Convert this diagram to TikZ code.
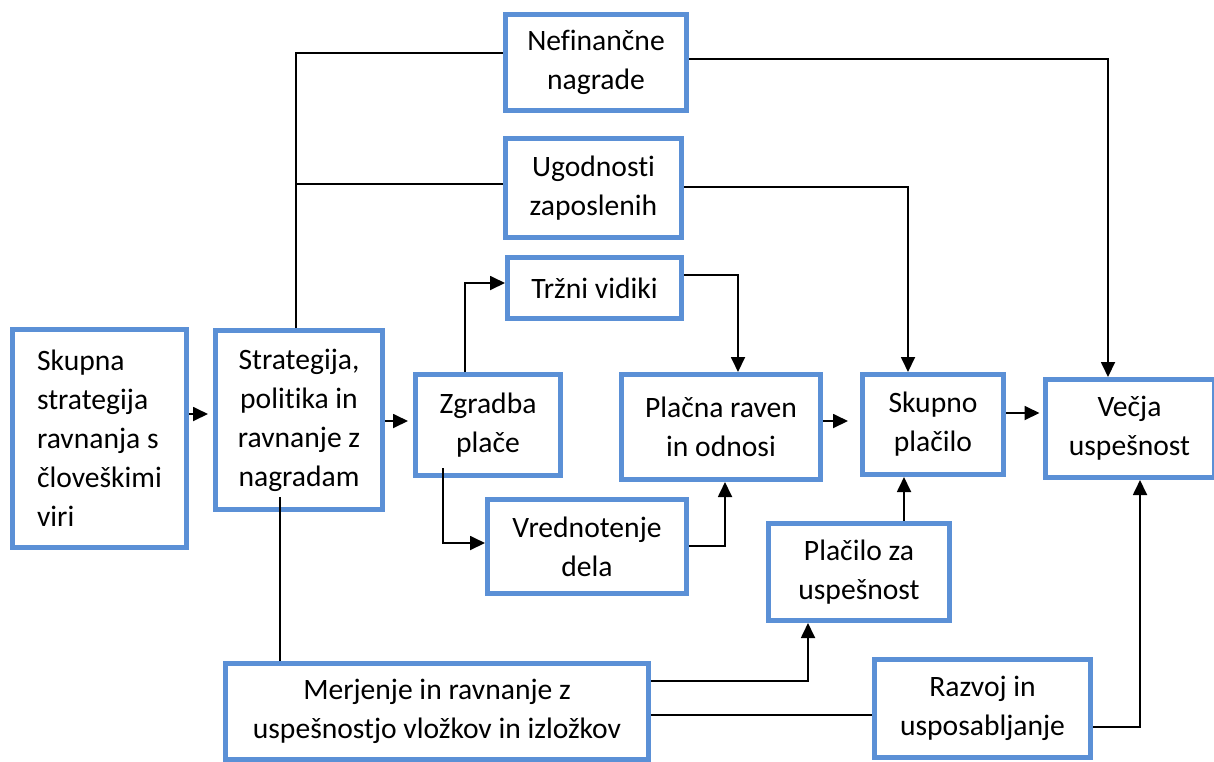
\documentclass[tikz,border=0pt]{standalone}
\usepackage{fontspec}
\setmainfont{Carlito}[Ligatures=NoCommon]
\usetikzlibrary{arrows.meta}
\definecolor{boxblue}{RGB}{91,144,214}
\begin{document}
\begin{tikzpicture}[x=1pt,y=-1pt,
  bx/.style={draw=boxblue,line width=5pt,fill=white,inner sep=0pt,align=center,
    font=\fontsize{29.6}{39}\selectfont},
  ln/.style={draw=black,line width=1.8pt},
  arr/.style={ln,-{Triangle[length=15pt,width=14pt]}}]
\useasboundingbox (0,0) rectangle (1214,761);
% boxes
\node[bx,minimum width=174pt,minimum height=218pt,align=left] (skup) at (99.5,438.5) {Skupna\\strategija\\ravnanja s\\človeškimi\\viri};
\node[bx,minimum width=167pt,minimum height=179pt] (strat) at (299,420) {Strategija,\\politika in\\ravnanje z\\nagradam};
\node[bx,minimum width=145pt,minimum height=101pt] (zgr) at (488,425) {Zgradba\\plače};
\node[bx,minimum width=174pt,minimum height=61pt] (trz) at (594.5,288) {Tržni vidiki};
\node[bx,minimum width=199pt,minimum height=105pt] (plr) at (721,427) {Plačna raven\\in odnosi};
\node[bx,minimum width=199pt,minimum height=94pt] (vred) at (587,546.5) {Vrednotenje\\dela};
\node[bx,minimum width=181pt,minimum height=96pt] (nef) at (596,62.5) {Nefinančne\\nagrade};
\node[bx,minimum width=176pt,minimum height=99pt] (ugo) at (593.5,188) {Ugodnosti\\zaposlenih};
\node[bx,minimum width=141pt,minimum height=100pt] (skp) at (933,424.5) {Skupno\\plačilo};
\node[bx,minimum width=169pt,minimum height=98pt] (vec) at (1129.5,428.5) {Večja\\uspešnost};
\node[bx,minimum width=181pt,minimum height=97pt] (plu) at (859,572) {Plačilo za\\uspešnost};
\node[bx,minimum width=423pt,minimum height=96pt] (mer) at (437,711.5) {Merjenje in ravnanje z\\uspešnostjo vložkov in izložkov};
\node[bx,minimum width=216pt,minimum height=98pt] (raz) at (982.5,708.5) {Razvoj in\\usposabljanje};
% helper coordinates
\coordinate (s1) at (280,497);
\coordinate (z1) at (443,468);
\coordinate (j1) at (296,184);
% connectors
\draw[arr,shorten >=5pt] (skup.east |- 0,414) -- (strat.west |- 0,414);
\draw[arr,shorten >=5pt] (strat.east |- 0,421) -- (zgr.west |- 0,421);
\draw[arr] (zgr.north -| 465,0) |- (trz.west |- 0,283);
\draw[arr] (trz.east |- 0,275) -| (plr.north -| 738,0);
\draw[arr] (z1) |- (vred.west |- 0,543);
\draw[arr] (vred.east |- 0,546) -| (plr.south -| 725,0);
\draw[arr,shorten >=12pt] (plr.east |- 0,421) -- (skp.west |- 0,421);
\draw[arr,shorten >=3pt] (skp.east |- 0,413) -- (vec.west |- 0,413);
\draw[arr] (ugo.east |- 0,187) -| (skp.north -| 908,0);
\draw[arr] (nef.east |- 0,59) -| (vec.north -| 1108,0);
\draw[ln] (strat.north -| 296,0) |- (nef.west |- 0,53);
\draw[ln] (j1) -- (ugo.west |- j1);
\draw[ln] (s1) -- (mer.north -| s1);
\draw[arr] (mer.east |- 0,681) -| (plu.south -| 808,0);
\draw[ln] (mer.east |- 0,715) -- (raz.west |- 0,715);
\draw[arr] (raz.east |- 0,727) -| (vec.south -| 1140,0);
\draw[arr] (plu.north -| 904,0) -- (skp.south -| 904,0);
\end{tikzpicture}
\end{document}
